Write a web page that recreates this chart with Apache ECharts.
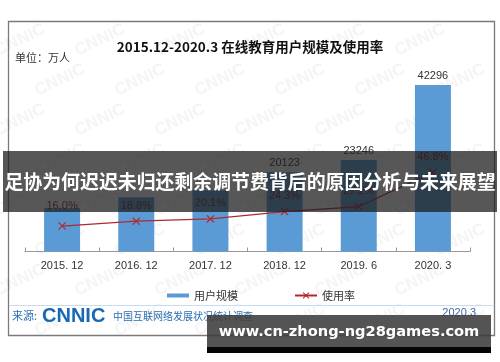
<!DOCTYPE html>
<html>
<head>
<meta charset="utf-8">
<script src="https://cdn.jsdelivr.net/npm/echarts@6/dist/echarts.min.js"></script>
<style>
html,body{margin:0;padding:0;background:#fff;}
#chart{width:500px;height:362px;}
</style>
</head>
<body>
<div id="chart"></div>
<script>
// ---- data ----
var categories = ['2015. 12', '2016. 12', '2017. 12', '2018. 12', '2019. 6', '2020. 3'];
var users = [11014, 13764, 15518, 20123, 23246, 42296];
var rates = [16.0, 18.8, 20.1, 24.3, 27.2, 46.8];
var legendNames = ['用户规模', '使用率'];
var titleText = '2015.12-2020.3 在线教育用户规模及使用率';
var unitText = '单位：万人';
var bannerText = '足协为何迟迟未归还剩余调节费背后的原因分析与未来展望';
var siteText = 'www.cn-zhong-ng28games.com';
var sourceLabel = '来源:';
var sourceLogo = 'CNNIC';
var sourceName = '中国互联网络发展状况统计调查';
var sourceDate = '2020.3';

var FONT = "'Liberation Sans', 'Noto Sans CJK SC', sans-serif";
var CJK = "'Noto Sans CJK SC', sans-serif";

// bar labels of the first three bars are hidden behind the overlay banner in the reference
var userData = users.map(function (v, i) {
  return i < 3 ? { value: v, label: { show: false } } : v;
});
var rateData = rates.map(function (v, i) {
  return i === 0 ? { value: v, label: { distance: 11 } } : v;
});

// faint background watermarks
var marks = [];
for (var r = 0; r < 8; r++) {
  for (var c = 0; c < 7; c++) {
    var x = 20 + c * 80 + (r % 2) * 40;
    var y = 40 + r * 40;
    if (x > 490 || y > 330) continue;
    marks.push({
      type: 'text', x: x, y: y, rotation: 0.45, z: 0,
      style: { text: 'CNNIC', fill: 'rgba(0,0,0,0.045)', fontSize: 17, fontWeight: 'bold', fontFamily: FONT, align: 'center', verticalAlign: 'middle' },
      silent: true
    });
  }
}

var chart = echarts.init(document.getElementById('chart'), null, { renderer: 'canvas' });
chart.setOption({
  backgroundColor: '#fff',
  animation: false,
  textStyle: { fontFamily: FONT },
  title: {
    text: titleText, left: 'center', top: 35,
    textStyle: { fontFamily: CJK, fontWeight: 'bold', fontSize: 13.5, color: '#111' }
  },
  legend: {
    data: [
      { name: legendNames[0], icon: 'path://M0,0h22v4h-22z' },
      { name: legendNames[1] }
    ],
    left: 162, top: 285, itemWidth: 22, itemHeight: 8, itemGap: 56,
    textStyle: { fontFamily: CJK, fontSize: 11, color: '#333' }
  },
  grid: { left: 25, right: 30, top: 77, bottom: 110.5, containLabel: false },
  xAxis: {
    type: 'category', data: categories,
    axisLine: { lineStyle: { color: '#999', width: 1 } },
    axisTick: { show: true, inside: true, length: 4, lineStyle: { color: '#999' } },
    axisLabel: { color: '#333', fontSize: 11, margin: 9, fontFamily: FONT }
  },
  yAxis: [
    { type: 'value', min: 0, max: 44320, show: false, splitLine: { show: false } },
    { type: 'value', min: 1.4, max: 101.5, show: false, splitLine: { show: false } }
  ],
  series: [
    {
      name: legendNames[0], type: 'bar', data: userData, barWidth: 36,
      itemStyle: { color: '#5b9bd5' },
      label: { show: true, position: 'top', distance: 4, color: '#333', fontSize: 11 }
    },
    {
      name: legendNames[1], type: 'line', yAxisIndex: 1, data: rateData,
      lineStyle: { color: '#b3282d', width: 1.3 },
      itemStyle: { color: '#b3282d' },
      symbol: 'path://M0,1L1,0L5,4L9,0L10,1L6,5L10,9L9,10L5,6L1,10L0,9L4,5Z',
      symbolSize: 8,
      label: {
        show: true, position: 'top', distance: 6, color: '#8e1c1c', fontSize: 11,
        formatter: function (p) { return Number(p.value).toFixed(1) + '%'; }
      }
    }
  ],
  graphic: [
    { type: 'rect', shape: { x: 8.5, y: 21.5, width: 486, height: 314 }, z: 0, silent: true,
      style: { fill: 'none', stroke: '#7a7a7a', lineWidth: 1.3 } },
    { type: 'group', z: 0, children: marks },
    { type: 'text', x: 15, y: 58, z: 5, style: { text: unitText, fontSize: 11, fontFamily: CJK, fill: '#333', verticalAlign: 'middle' } },
    { type: 'line', shape: { x1: 9, y1: 305.5, x2: 493, y2: 305.5 }, z: 5, style: { stroke: '#c8dcef', lineWidth: 1 } },
    { type: 'text', x: 12, y: 316, z: 5, style: { text: sourceLabel, fontSize: 11, fontFamily: CJK, fill: '#2b6fb3', verticalAlign: 'middle' } },
    { type: 'text', x: 42, y: 316, z: 5, style: { text: sourceLogo, fontSize: 20, fontWeight: 'bold', fontFamily: FONT, fill: '#1768b5', verticalAlign: 'middle' } },
    { type: 'text', x: 113, y: 316, z: 5, style: { text: sourceName, fontSize: 10, fontFamily: CJK, fill: '#2b6fb3', verticalAlign: 'middle' } },
    { type: 'text', x: 476, y: 313, z: 5, style: { text: sourceDate, fontSize: 11, fontFamily: FONT, fill: '#3d6d9e', align: 'right', verticalAlign: 'middle' } },
    // overlay banner
    { type: 'rect', shape: { x: 3, y: 151, width: 494, height: 61 }, z: 100, silent: true,
      style: { fill: 'rgba(28,28,28,0.74)' } },
    { type: 'text', x: 250, y: 182, z: 101, silent: true,
      style: { text: bannerText, fontSize: 18.9, fontWeight: 'bold', fontFamily: CJK, fill: '#fff', align: 'center', verticalAlign: 'middle' } },
    // site watermark box
    { type: 'rect', shape: { x: 207, y: 315, width: 284, height: 33 }, z: 100, silent: true,
      style: { fill: 'rgba(60,60,60,0.88)' } },
    { type: 'rect', shape: { x: 207, y: 347, width: 284, height: 6 }, z: 100, silent: true,
      style: { fill: '#050505' } },
    { type: 'text', x: 349, y: 332, z: 101, silent: true,
      style: { text: siteText, fontSize: 14.6, fontWeight: 'bold', fontFamily: "'DejaVu Sans', sans-serif", fill: '#fff', align: 'center', verticalAlign: 'middle' } }
  ]
});
</script>
</body>
</html>
